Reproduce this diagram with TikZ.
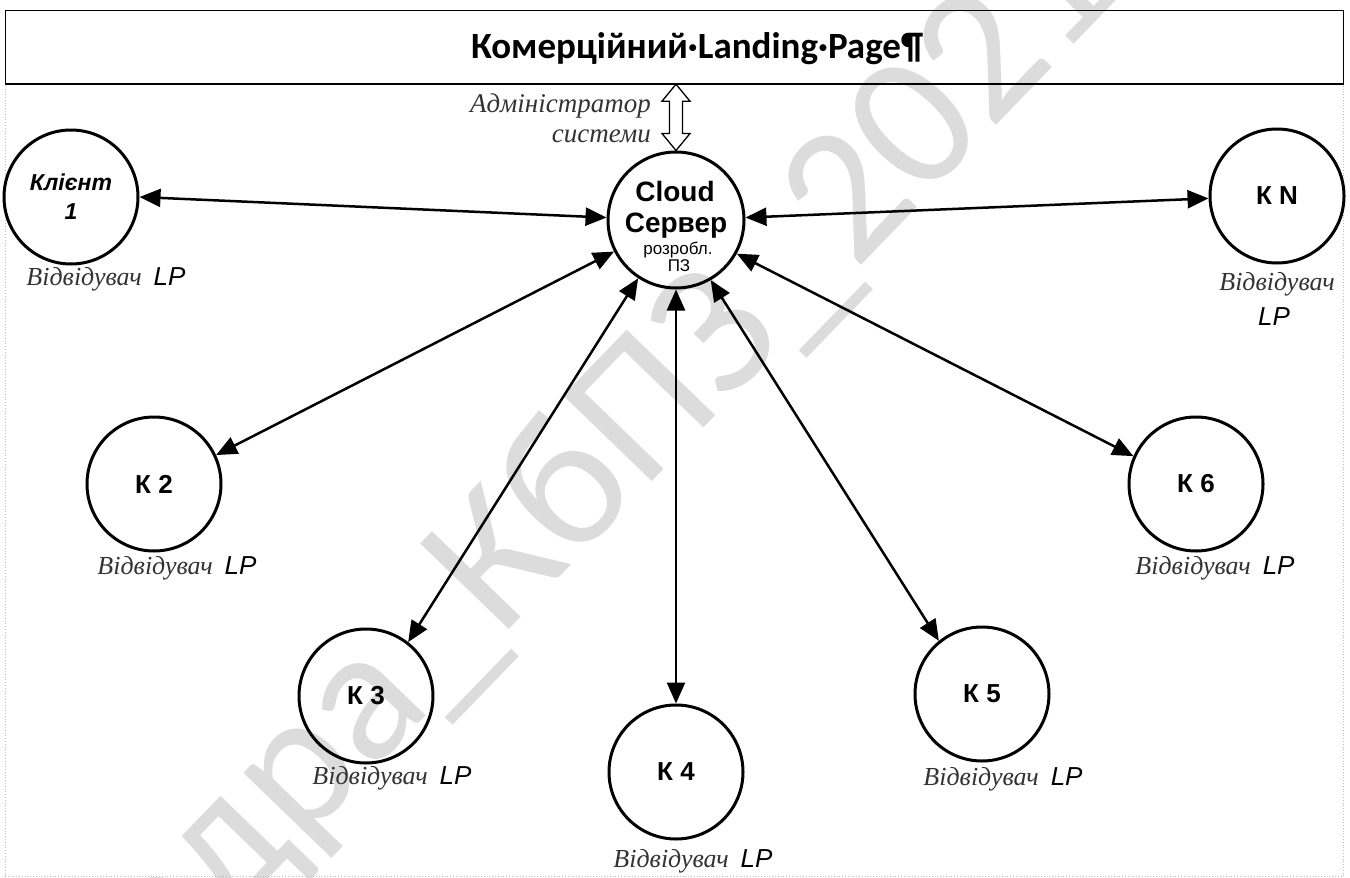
\documentclass[tikz,border=0pt]{standalone}
\usepackage{fontspec}
\setmainfont{Liberation Serif}
\newfontfamily\arialf{Liberation Sans}
\newfontfamily\calib{Carlito}
\usetikzlibrary{arrows.meta,calc}
\definecolor{lbl}{HTML}{333333}
\definecolor{wm}{HTML}{DCDCDC}
\newcommand\vlp{{\itshape Відвідувач}\hspace{12pt}{\arialf\itshape\color{black}LP}}
\begin{document}
\begin{tikzpicture}[x=1pt,y=-1pt,
  >={Triangle[length=21pt,width=18pt]},
  cl/.style={circle,draw,line width=3pt,minimum size=134pt,inner sep=0pt,font=\arialf\bfseries\fontsize{26}{28}\selectfont},
  link/.style={<->,line width=2.5pt},
  vis/.style={font=\fontsize{26}{30}\selectfont,text=lbl,inner sep=0pt},
  srvtxt/.style={font=\arialf\bfseries\fontsize{28}{30}\selectfont,inner sep=0pt,anchor=base},
  srvsmall/.style={font=\arialf\fontsize{17}{19}\selectfont,inner sep=0pt,anchor=base},
  border/.style={gray!55,dotted,line width=0.8pt}]
\useasboundingbox (0,0) rectangle (1350,878);
% watermark
\node[rotate=46,text=wm,font=\calib\fontsize{192}{192}\selectfont,inner sep=0pt] (wmk) at (498,570) {Кафедра\_КбПЗ\_2021};
% page borders
\draw[border] (5,83) -- (5,878);
\draw[border] (1343,83) -- (1343,878);
\draw[border] (5,876) -- (1343,876);
% header
\node[draw,line width=1.2pt,minimum width=1338pt,minimum height=73pt,anchor=north west,inner sep=0pt] (hdr) at (5,10) {};
\draw[line width=2pt] (hdr.south west) -- (hdr.south east);
\node[font=\calib\bfseries\fontsize{37}{39}\selectfont,anchor=base,inner sep=0pt] (title) at (697,58) {Комерційний·Landing·Page¶};
% server
\node[cl,minimum size=136pt] (srv) at (676,220) {};
\node[srvtxt] (t1) at (675,201) {Cloud};
\node[srvtxt] (t2) at (676,232) {Сервер};
\node[srvsmall] (t3) at (678,254) {розробл.};
\node[srvsmall] (t4) at (679,271) {ПЗ};
% admin
\node[vis,anchor=east,align=right,font=\fontsize{27}{30}\selectfont] (adm) at (651,118) {\itshape Адміністратор\\\itshape системи};
\coordinate (at) at (srv.north |- hdr.south);
\draw[line width=1.3pt,fill=white,line join=miter]
  (at) -- ++(14,17) -- ++(-7.5,0) -- ($(srv.north)+(6.5,-17)$) -- ++(7.5,0) -- (srv.north)
  -- ++(-14,-17) -- ++(7.5,0) -- ($(at)+(-6.5,17)$) -- ++(-7.5,0) -- cycle;
% clients
\node[cl,align=center,font=\arialf\bfseries\itshape\fontsize{23}{29}\selectfont] (c1) at (71,197) {Клієнт\\1};
\node[cl] (k2) at (154,484) {К 2};
\node[cl] (k3) at (366,696) {К 3};
\node[cl] (k4) at (676,772) {К 4};
\node[cl] (k5) at (982,694) {К 5};
\node[cl] (k6) at (1196,484) {К 6};
\node[cl] (kn) at (1277,196) {К N};
% labels
\node[vis] (l1) at (106,279) {\vlp};
\node[vis] (l2) at (177,568) {\vlp};
\node[vis] (l3) at (392,778) {\vlp};
\node[vis] (l4) at (693,861) {\vlp};
\node[vis] (l5) at (1003,779) {\vlp};
\node[vis] (l6) at (1215,568) {\vlp};
\node[vis] (ln1) at (1277,284) {\itshape Відвідувач};
\node[vis] (ln2) at (1274,317) {\arialf\itshape\color{black}LP};
% links
\draw[link] (c1.0) -- (srv.178);
\draw[link] (kn.182) -- (srv.2);
\draw[link] (k2.25) -- (srv.207);
\draw[link] (k3.52) -- (srv.237);
\draw[link] (k4.north) -- (srv.south);
\draw[link] (k5.129) -- (srv.300);
\draw[link] (k6.156) -- (srv.331);
\end{tikzpicture}
\end{document}
